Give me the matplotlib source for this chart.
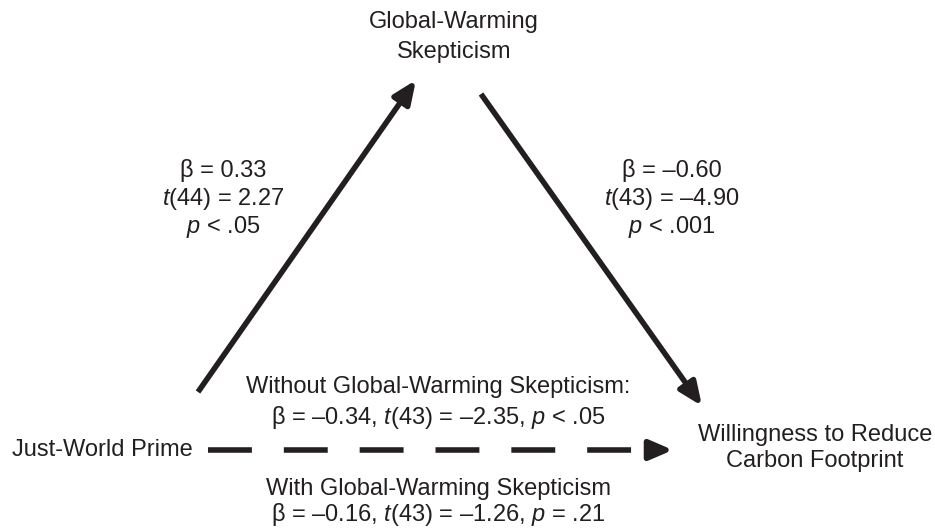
import matplotlib
matplotlib.use('Agg')
import matplotlib.pyplot as plt

plt.rcParams['font.family'] = ['Liberation Sans', 'DejaVu Sans']
plt.rcParams['mathtext.fontset'] = 'custom'
plt.rcParams['mathtext.rm'] = 'Liberation Sans'
plt.rcParams['mathtext.it'] = 'Liberation Sans:italic'

INK = '#231f20'

# node labels
mediator = ['Global-Warming', 'Skepticism']
predictor = 'Just-World Prime'
outcome = ['Willingness to Reduce', 'Carbon Footprint']

# path statistics
path_a = ['β = 0.33', '$t$(44) = 2.27', '$p$ < .05']
path_b = ['β = –0.60', '$t$(43) = –4.90', '$p$ < .001']
path_c_total = ['Without Global-Warming Skepticism:',
                'β = –0.34, $t$(43) = –2.35, $p$ < .05']
path_c_direct = ['With Global-Warming Skepticism',
                 'β = –0.16, $t$(43) = –1.26, $p$ = .21']

# layout in pixel space (935 x 530), y grows downward
arrow_a = ((198, 392), (416, 80))
arrow_b = ((481, 94), (702, 406))
arrow_c = ((208, 450), (673, 450))

fig = plt.figure(figsize=(9.35, 5.3), dpi=100)
ax = fig.add_axes([0, 0, 1, 1])
ax.set_xlim(0, 935)
ax.set_ylim(530, 0)
ax.axis('off')

fs = 17
lw = 4.0
head = '-|>,head_length=1.4,head_width=0.6'


def solid_arrow(start, end):
    ax.annotate('', xy=end, xytext=start,
                arrowprops=dict(arrowstyle=head, color=INK, lw=lw,
                                shrinkA=0, shrinkB=0, capstyle='butt'))


solid_arrow(*arrow_a)
solid_arrow(*arrow_b)

# dashed direct path, solid head at the end
(x0, y0), (x1, y1) = arrow_c
ax.plot([x0, x1 - 41], [y0, y1], color=INK, lw=lw, ls=(0, (7.9, 5.75)),
        dash_capstyle='butt', solid_capstyle='butt')
solid_arrow((x1 - 28, y1), (x1, y1))


def lines(x, baselines, texts, ha='center'):
    for yb, s in zip(baselines, texts):
        ax.text(x, yb, s, ha=ha, va='baseline', fontsize=fs, color=INK)


# nodes
lines(454, [28, 58], mediator)
lines(12, [456], [predictor], ha='left')
lines(815, [441, 467], outcome)

# path stats
lines(223, [177, 205, 233], path_a)
lines(672, [177, 205, 233], path_b)
lines(438, [393, 424], path_c_total)
lines(438, [495, 521], path_c_direct)

fig.savefig('out.png', dpi=100)
